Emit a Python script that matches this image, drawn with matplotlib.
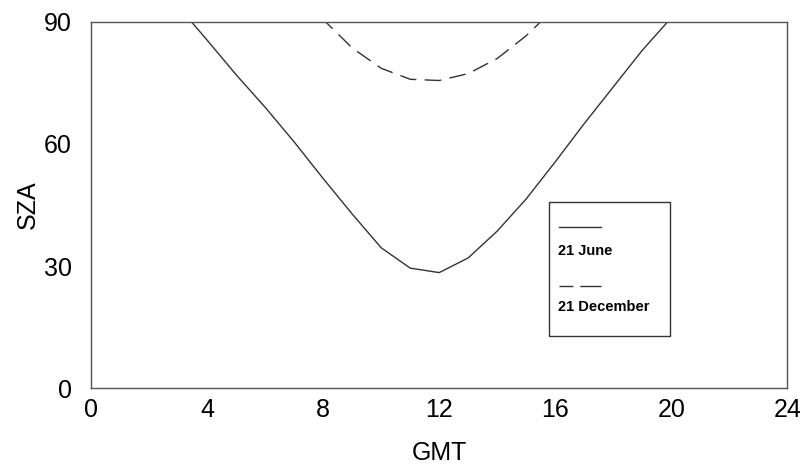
import matplotlib.pyplot as plt
from matplotlib.lines import Line2D
from matplotlib.patches import Rectangle

plt.rcParams['font.family'] = ['Liberation Sans', 'DejaVu Sans']

# solar zenith angle (values above 90 get clipped by the axis)
june_hours = list(range(3, 21))
june_sza = [93.8, 85.5, 77.0, 69.0, 60.5, 51.5, 42.8, 34.5, 29.5, 28.4,
            32.0, 38.6, 46.5, 55.6, 65.0, 74.0, 83.0, 91.0]

dec_hours = list(range(7, 17))
dec_sza = [98.0, 90.6, 83.6, 78.6, 75.9, 75.6, 77.3, 81.0, 86.6, 93.5]

labels = ['21 June', '21 December']
xticks = [0, 4, 8, 12, 16, 20, 24]
yticks = [0, 30, 60, 90]

fig = plt.figure(figsize=(8, 4.66), dpi=100)
ax = fig.add_axes([0.114, 0.167, 0.870, 0.786])

col = '#333333'
ax.plot(june_hours, june_sza, color=col, lw=1.0)
ax.plot(dec_hours, dec_sza, color=col, lw=1.0, dashes=(12, 6))

ax.set_xlim(0, 24)
ax.set_ylim(0, 90)
ax.set_xticks(xticks)
ax.set_yticks(yticks)
ax.tick_params(axis='both', length=0, labelsize=18)
ax.tick_params(axis='x', pad=7)
ax.tick_params(axis='y', pad=14)
for s in ax.spines.values():
    s.set_color('#555555')
    s.set_linewidth(1.0)

ax.set_xlabel('GMT', fontsize=18, labelpad=14)
ax.set_ylabel('SZA', fontsize=18, labelpad=3)

# legend box: line sample sits above its label
x0, x1, y0, y1 = 0.658, 0.831, 0.142, 0.508
ax.add_patch(Rectangle((x0, y0), x1 - x0, y1 - y0, transform=ax.transAxes,
                       fill=False, edgecolor='#333333', lw=1.0, zorder=5))
ax.add_line(Line2D([0.672, 0.733], [0.440, 0.440], transform=ax.transAxes,
                   color=col, lw=1.0))
ax.text(0.670, 0.375, labels[0], transform=ax.transAxes, fontsize=10.5,
        fontweight='bold', va='center', ha='left')
ax.add_line(Line2D([0.672, 0.733], [0.280, 0.280], transform=ax.transAxes,
                   color=col, lw=1.0, dashes=(10, 5, 17, 5)))
ax.text(0.670, 0.222, labels[1], transform=ax.transAxes, fontsize=10.5,
        fontweight='bold', va='center', ha='left')

fig.savefig('out.png', dpi=100)
